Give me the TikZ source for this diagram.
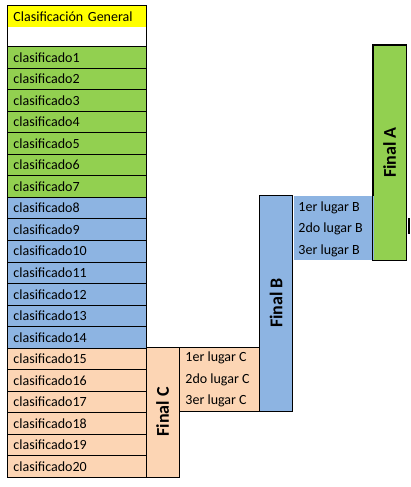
\documentclass[tikz,border=0pt]{standalone}
\usepackage{fontspec}
\setmainfont{Carlito}
\definecolor{verde}{HTML}{92D050}
\definecolor{azul}{HTML}{8DB4E2}
\definecolor{salmon}{HTML}{FCD5B4}
\definecolor{amarillo}{HTML}{FFFF00}

\begin{document}
\begin{tikzpicture}[x=1pt, y=-1pt, line width=0.9pt,
  celda/.style={draw, anchor=north west, minimum width=139pt, minimum height=21.55pt,
    inner sep=0pt, text width=127pt, align=left, font=\fontsize{14}{16}\selectfont},
  final/.style={draw, rotate=90, minimum height=33pt, inner sep=0pt,
    font=\fontsize{18}{20}\selectfont\bfseries},
  lugar/.style={anchor=west, inner sep=0pt, font=\fontsize{14}{16}\selectfont}]
\useasboundingbox (0,0) rectangle (411,487);

% tabla general
\node[anchor=north west, fill=amarillo, minimum width=139pt, minimum height=22pt,
  inner sep=0pt, text width=127pt, align=left, font=\fontsize{14}{16}\selectfont]
  (tit) at (7,5) {Clasificación General};
\foreach \i in {1,...,7}
  \node[celda, fill=verde] (c\i) at (7,{46+(\i-1)*21.55}) {clasificado\i};
\foreach \i in {8,...,14}
  \node[celda, fill=azul] (c\i) at (7,{46+(\i-1)*21.55}) {clasificado\i};
\foreach \i in {15,...,20}
  \node[celda, fill=salmon] (c\i) at (7,{46+(\i-1)*21.55}) {clasificado\i};
\draw (tit.north west) rectangle (c1.north east);

% finales
\node[final, fill=salmon, minimum width=130pt] (fC) at (162.5,412) {Final C};
\node[final, fill=azul, minimum width=216pt] (fB) at (276,303) {Final B};
\node[final, fill=verde, minimum width=215pt] (fA) at (389.5,152.5) {Final A};

% lugares
\node[draw, fill=salmon, anchor=north west, minimum width=80pt, minimum height=64pt,
  inner sep=0pt] (lC) at (179,347) {};
\node[fill=azul, anchor=north west, minimum width=80pt, minimum height=64pt,
  inner sep=0pt] (lB) at (293.5,195.5) {};
\node[lugar] (c1C) at (185,358) {1er lugar C};
\node[lugar] (c2C) at (185,380) {2do lugar C};
\node[lugar] (c3C) at (185,401) {3er lugar C};
\node[lugar] (c1B) at (298,208) {1er lugar B};
\node[lugar] (c2B) at (298,229) {2do lugar B};
\node[lugar] (c3B) at (298,251) {3er lugar B};
\draw (fB.north west) -- (fB.south west);
\draw (fA.north east) -- (fA.north west) -- (fA.south west) -- (fA.south east) -- cycle;

\coordinate (m1) at (409.2,218);
\coordinate (m2) at (409.2,234);
\draw[line width=2pt, black] (m1) -- (m2);
\end{tikzpicture}
\end{document}
